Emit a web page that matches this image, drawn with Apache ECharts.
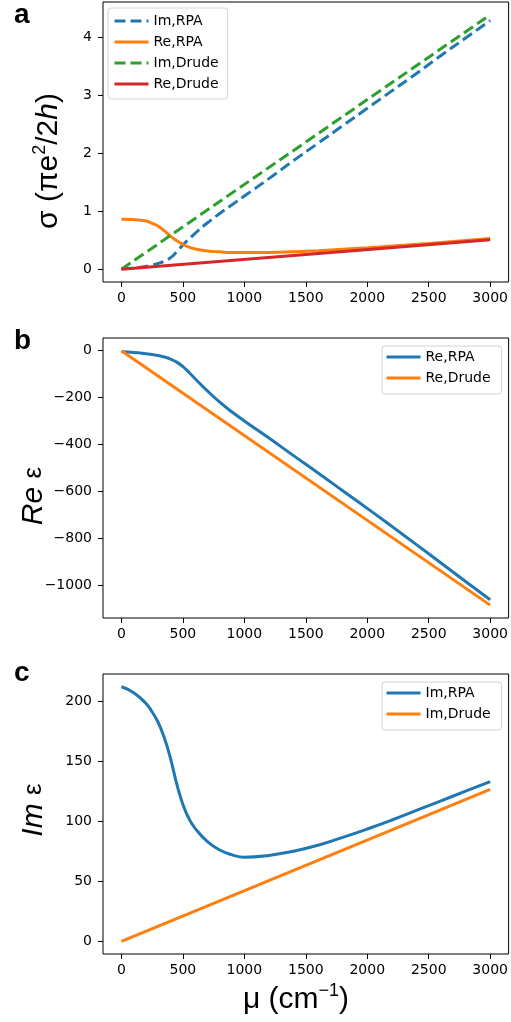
<!DOCTYPE html>
<html><head><meta charset="utf-8">
<script src="https://cdn.jsdelivr.net/npm/echarts@6/dist/echarts.min.js"></script>
<style>html,body{margin:0;padding:0;background:#fff}#c{width:511px;height:1022px}</style>
</head><body><div id="c"></div><script>
// ---- data ----
const mu       = [0,100,200,250,300,350,400,450,500,550,600,700,800,900,1000,1200,1400,1600,1800,2000,2200,2400,2600,2800,3000];
const aImRPA   = [0.01,0.02,0.05,0.07,0.10,0.14,0.20,0.30,0.42,0.52,0.62,0.80,0.96,1.11,1.26,1.56,1.87,2.17,2.47,2.77,3.07,3.37,3.68,3.98,4.28];
const aReRPA   = [0.86,0.855,0.83,0.79,0.74,0.66,0.57,0.49,0.43,0.38,0.35,0.315,0.30,0.29,0.29,0.29,0.30,0.32,0.345,0.37,0.40,0.43,0.46,0.495,0.53];
const bReRPA   = [-5,-8,-13,-16,-21,-27,-36,-49,-68,-93,-120,-172,-220,-262,-300,-373,-448,-522,-598,-673,-750,-828,-906,-985,-1063];
const cImRPA   = [212,207,198,191,182,169,152,131,114,102,94,83,76,72,70,71.5,75,80,86.5,93.5,101,109,117,125,133];
const drudeMu  = [0,3000];
const aImDrude = [0,4.38];
const aReDrude = [0,0.51];
const bReDrude = [0,-1086];
const cImDrude = [0,126.5];
const xTicks = [0,500,1000,1500,2000,2500,3000];
const aTicks = [0,1,2,3,4];
const bTicks = [-1000,-800,-600,-400,-200,0];
const cTicks = [0,50,100,150,200];

const C = {blue:'#1f77b4', orange:'#ff7f0e', green:'#2ca02c', red:'#d62728'};
const pair = (xs, ys) => xs.map((x,i)=>[x, ys[i]]);
const minus = v => (v < 0 ? '\u2212' + Math.abs(v) : String(v));
const tickFont = {fontSize:14, fontFamily:'DejaVu Sans', color:'#000'};

const tops = [2, 338, 674];
const grids = tops.map(t => ({left:103, top:t, width:407, height:280, show:true, borderColor:'#000', borderWidth:1, backgroundColor:'transparent'}));
const xAxes = tops.map((t,i) => ({
  type:'value', gridIndex:i, min:-150, max:3150,
  axisLine:{show:false, onZero:false}, splitLine:{show:false},
  axisTick:{show:true, length:5, customValues:xTicks, lineStyle:{color:'#000', width:1}},
  axisLabel:Object.assign({customValues:xTicks, margin:9, formatter:minus}, tickFont)
}));
const yRanges = [[-0.219,4.6,aTicks],[-1141,54,bTicks],[-10.6,222.6,cTicks]];
const yAxes = yRanges.map((r,i) => ({
  type:'value', gridIndex:i, min:r[0], max:r[1],
  axisLine:{show:false, onZero:false}, splitLine:{show:false},
  axisTick:{show:true, length:5, customValues:r[2], lineStyle:{color:'#000', width:1}},
  axisLabel:Object.assign({customValues:r[2], margin:11, formatter:minus}, tickFont)
}));

function line(name, gi, xs, ys, color, dashed) {
  return {type:'line', name:name, xAxisIndex:gi, yAxisIndex:gi, data:pair(xs, ys),
    symbol:'none', showSymbol:false, smooth:0.5,
    lineStyle:{color:color, width:3, type: dashed ? [11,5] : 'solid'},
    itemStyle:{color:color}, emphasis:{disabled:true}};
}
const series = [
  line('a:Im,RPA',   0, mu, aImRPA, C.blue, true),
  line('a:Re,RPA',   0, mu, aReRPA, C.orange, false),
  line('a:Im,Drude', 0, drudeMu, aImDrude, C.green, true),
  line('a:Re,Drude', 0, drudeMu, aReDrude, C.red, false),
  line('b:Re,RPA',   1, mu, bReRPA, C.blue, false),
  line('b:Re,Drude', 1, drudeMu, bReDrude, C.orange, false),
  line('c:Im,RPA',   2, mu, cImRPA, C.blue, false),
  line('c:Im,Drude', 2, drudeMu, cImDrude, C.orange, false)
];

function legend(data, left, top, pad) {
  return {data:data, left:left, top:top, orient:'vertical', selectedMode:false,
    itemWidth:34, itemHeight:14, itemGap:7, padding:pad,
    itemStyle:{opacity:0}, lineStyle:{width:3},
    borderColor:'#d3d3d3', borderWidth:1, borderRadius:3, backgroundColor:'rgba(255,255,255,0.8)',
    textStyle:{fontSize:14, fontFamily:'DejaVu Sans', color:'#000', lineHeight:14},
    formatter: n => n.slice(2)};
}
const legends = [
  legend(['a:Im,RPA','a:Re,RPA','a:Im,Drude','a:Re,Drude'], 108, 8, [6,9,8,5]),
  legend(['b:Re,RPA','b:Re,Drude'], 382, 346, [4,11,9,3]),
  legend(['c:Im,RPA','c:Im,Drude'], 382, 682, [4,11,9,3])
];

const F = 'Liberation Sans';
function txt(x, y, rot, text, rich) {
  return {type:'text', x:x, y:y, rotation:rot, silent:true,
    style:{text:text, rich:rich, align:'center', verticalAlign:'middle', fill:'#000', fontFamily:F, fontSize:30}};
}
const richBase = {
  n:{fontFamily:F, fontSize:30, lineHeight:36, fill:'#000'},
  i:{fontFamily:F, fontSize:30, fontStyle:'italic', lineHeight:36, fill:'#000'},
  s:{fontFamily:F, fontSize:18, verticalAlign:'top', lineHeight:20, fill:'#000'},
  g:{fontFamily:F, fontSize:26, lineHeight:36, fill:'#000'}
};
const graphics = [
  {type:'text', x:14, y:15, silent:true, style:{text:'a', fontFamily:F, fontWeight:'bold', fontSize:28, fill:'#000', verticalAlign:'middle'}},
  {type:'text', x:14, y:341, silent:true, style:{text:'b', fontFamily:F, fontWeight:'bold', fontSize:28, fill:'#000', verticalAlign:'middle'}},
  {type:'text', x:14, y:673, silent:true, style:{text:'c', fontFamily:F, fontWeight:'bold', fontSize:28, fill:'#000', verticalAlign:'middle'}},
  txt(49, 161, Math.PI/2, '{n|σ (πe}{s|2}{n|/2}{i|h}{n|)}', richBase),
  txt(34, 496, Math.PI/2, '{i|Re} {g|ε}', richBase),
  txt(34, 810, Math.PI/2, '{i|Im} {g|ε}', richBase),
  txt(296, 1000, 0, '{n|μ (cm}{s|−1}{n|)}', richBase)
];

const chart = echarts.init(document.getElementById('c'), null, {renderer:'canvas'});
chart.setOption({
  animation:false, backgroundColor:'#fff',
  grid:grids, xAxis:xAxes, yAxis:yAxes, series:series, legend:legends, graphic:graphics
});
</script></body></html>
